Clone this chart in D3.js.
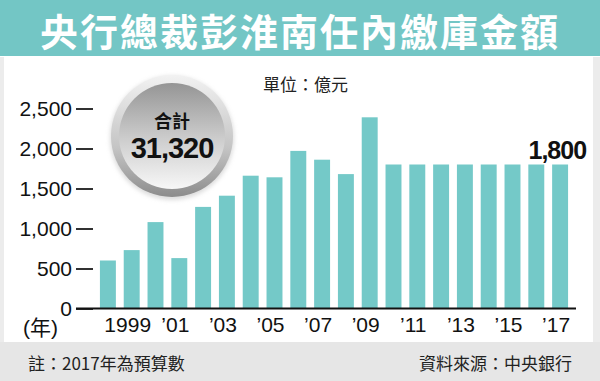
<!DOCTYPE html>
<html>
<head>
<meta charset="utf-8">
<script src="https://cdn.jsdelivr.net/npm/d3@7"></script>
<style>
  body { margin: 0; background: #fff; }
  svg { display: block; }
</style>
</head>
<body>
<div class="chart"></div>
<script>
// 央行繳庫金額（億元）
const years = [1998, 1999, 2000, 2001, 2002, 2003, 2004, 2005, 2006, 2007,
               2008, 2009, 2010, 2011, 2012, 2013, 2014, 2015, 2016, 2017];
const amounts = [600, 730, 1080, 630, 1270, 1410, 1660, 1640, 1970, 1860,
                 1680, 2390, 1800, 1800, 1800, 1800, 1800, 1800, 1800, 1800];
const yTicks = [0, 500, 1000, 1500, 2000, 2500];
const labelYears = [1999, 2001, 2003, 2005, 2007, 2009, 2011, 2013, 2015, 2017];

const data = years.map((d, i) => ({year: d, value: amounts[i]}));

const width = 600, height = 381;
const barColor = "#74c9c8";
const numFont = "'Liberation Sans', Arial, sans-serif";
const cjkFont = "'Noto Sans CJK TC', 'Noto Sans CJK SC', sans-serif";

var svg = d3.select('.chart')
            .append('svg')
            .attr("width", width)
            .attr("height", height);

// background frame
svg.append("rect").attr("x", 0).attr("y", 0).attr("width", width).attr("height", height).attr("fill", "#fff");
svg.append("rect").attr("x", 0).attr("y", 57).attr("width", 4).attr("height", 285).attr("fill", "#ececec");
svg.append("rect").attr("x", 593).attr("y", 57).attr("width", 7).attr("height", 285).attr("fill", "#ececec");

// title banner
svg.append("rect")
   .attr("x", 0).attr("y", 0)
   .attr("width", width).attr("height", 56)
   .attr("fill", "#73c6c5");

svg.append("text")
   .attr("x", 300)
   .attr("y", 29)
   .attr("text-anchor", "middle")
   .attr("dominant-baseline", "central")
   .attr("font-family", cjkFont)
   .attr("font-weight", 700)
   .attr("font-size", 38)
   .attr("letter-spacing", 2)
   .attr("fill", "#fff")
   .text("央行總裁彭淮南任內繳庫金額");

// footer
svg.append("rect")
   .attr("x", 0).attr("y", 342)
   .attr("width", width).attr("height", 39)
   .attr("fill", "#e6e6e6");

svg.append("text")
   .attr("x", 28).attr("y", 362)
   .attr("dominant-baseline", "central")
   .attr("font-family", cjkFont)
   .attr("font-size", 17)
   .attr("fill", "#222")
   .text("註：2017年為預算數");

svg.append("text")
   .attr("x", 572).attr("y", 362)
   .attr("text-anchor", "end")
   .attr("dominant-baseline", "central")
   .attr("font-family", cjkFont)
   .attr("font-size", 17)
   .attr("fill", "#222")
   .text("資料來源：中央銀行");

// scales
const xScale = d3.scaleBand()
                 .domain(years)
                 .range([96, 572])
                 .paddingInner(0.33)
                 .paddingOuter(0.165);

const yScale = d3.scaleLinear()
                 .domain([0, 2500])
                 .range([308.5, 108.5]);

// bars
svg.selectAll("rect.bar")
   .data(data)
   .enter()
   .append("rect")
   .attr("class", "bar")
   .attr("x", d => xScale(d.year))
   .attr("y", d => yScale(d.value))
   .attr("width", xScale.bandwidth())
   .attr("height", d => yScale(0) - yScale(d.value))
   .attr("fill", barColor);

// y axis: short dashes, no domain line
const yAxis = d3.axisLeft(yScale)
                .tickValues(yTicks)
                .tickSize(-17)
                .tickPadding(4)
                .tickFormat(d3.format(","));

const yG = svg.append("g")
              .attr("class", "axis y-axis")
              .attr("transform", "translate(76,0)")
              .call(yAxis);
yG.select(".domain").remove();
yG.selectAll("line").attr("stroke", "#1a1a1a").attr("stroke-width", 1.8);
yG.selectAll("text")
  .attr("font-family", numFont)
  .attr("font-size", 21)
  .attr("fill", "#111");

// baseline
svg.append("line")
   .attr("x1", 76).attr("x2", 576)
   .attr("y1", yScale(0)).attr("y2", yScale(0))
   .attr("stroke", "#111")
   .attr("stroke-width", 2);

// x axis labels
const xAxis = d3.axisBottom(xScale)
                .tickValues(labelYears)
                .tickSize(0)
                .tickPadding(9)
                .tickFormat(d => d === 1999 ? "1999" : "\u2019" + String(d).slice(2));

const xG = svg.append("g")
              .attr("class", "axis x-axis")
              .attr("transform", `translate(0, ${yScale(0)})`)
              .call(xAxis);
xG.select(".domain").remove();
xG.selectAll("text")
  .attr("dx", -4)
  .attr("font-family", numFont)
  .attr("font-size", 21)
  .attr("fill", "#111");

svg.append("text")
   .attr("x", 23).attr("y", 327)
   .attr("dominant-baseline", "central")
   .attr("font-family", numFont + ", " + cjkFont)
   .attr("font-size", 21)
   .attr("fill", "#111")
   .text("(年)");

// unit
svg.append("text")
   .attr("x", 263).attr("y", 83)
   .attr("dominant-baseline", "central")
   .attr("font-family", cjkFont)
   .attr("font-size", 17)
   .attr("fill", "#222")
   .text("單位：億元");

// last value label
const last = data[data.length - 1];
svg.append("text")
   .attr("x", xScale(last.year) + xScale.bandwidth() + 18)
   .attr("y", yScale(last.value) - 15)
   .attr("text-anchor", "end")
   .attr("dominant-baseline", "central")
   .attr("font-family", numFont)
   .attr("font-weight", 700)
   .attr("font-size", 25)
   .attr("letter-spacing", -1)
   .attr("fill", "#111")
   .text(d3.format(",")(last.value));

// total badge
const defs = svg.append("defs");
const ringGrad = defs.append("linearGradient")
                     .attr("id", "ringGrad")
                     .attr("x1", 0).attr("y1", 0).attr("x2", 0).attr("y2", 1);
ringGrad.append("stop").attr("offset", "0%").attr("stop-color", "#f2f2f2");
ringGrad.append("stop").attr("offset", "60%").attr("stop-color", "#c4c4c4");
ringGrad.append("stop").attr("offset", "100%").attr("stop-color", "#8c8c8c");

const diskGrad = defs.append("linearGradient")
                     .attr("id", "diskGrad")
                     .attr("x1", 0).attr("y1", 0).attr("x2", 0).attr("y2", 1);
diskGrad.append("stop").attr("offset", "0%").attr("stop-color", "#959595");
diskGrad.append("stop").attr("offset", "55%").attr("stop-color", "#cfcfcf");
diskGrad.append("stop").attr("offset", "100%").attr("stop-color", "#f7f7f7");

const shadow = defs.append("filter").attr("id", "soft")
                   .attr("x", "-20%").attr("y", "-20%").attr("width", "140%").attr("height", "140%");
shadow.append("feGaussianBlur").attr("stdDeviation", 2);

const badge = svg.append("g").attr("transform", "translate(172,136)");
badge.append("circle").attr("r", 62).attr("cy", 2).attr("fill", "#bbb").attr("opacity", 0.5).attr("filter", "url(#soft)");
badge.append("circle").attr("r", 61).attr("fill", "url(#ringGrad)");
badge.append("circle").attr("r", 53).attr("fill", "url(#diskGrad)");

badge.append("text")
     .attr("y", -16)
     .attr("text-anchor", "middle")
     .attr("dominant-baseline", "central")
     .attr("font-family", cjkFont)
     .attr("font-weight", 700)
     .attr("font-size", 18)
     .attr("fill", "#111")
     .text("合計");

badge.append("text")
     .attr("y", 12)
     .attr("text-anchor", "middle")
     .attr("dominant-baseline", "central")
     .attr("font-family", numFont)
     .attr("font-weight", 700)
     .attr("font-size", 29)
     .attr("letter-spacing", -1)
     .attr("fill", "#111")
     .text(d3.format(",")(d3.sum(amounts)));
</script>
</body>
</html>
